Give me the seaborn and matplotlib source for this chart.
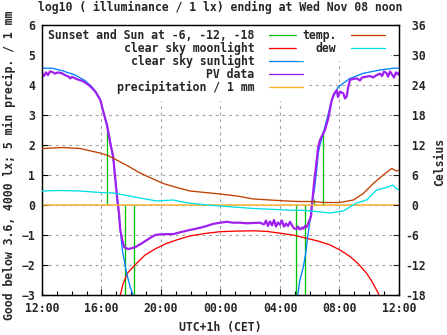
import matplotlib
matplotlib.use("Agg")
import matplotlib.pyplot as plt
import seaborn as sns
from matplotlib.lines import Line2D

# ---------------- data (hours since 12:00) ----------------
hour_ticks = [0, 4, 8, 12, 16, 20, 24]
hour_labels = ["12:00", "16:00", "20:00", "00:00", "04:00", "08:00", "12:00"]

# sunset / sun at -6, -12, -18 (evening) and -18, -12, -6, sunrise (morning)
event_h = [4.40, 5.04, 5.60, 6.21, 17.10, 17.71, 18.30, 18.91]
event_top = [2.5, 0.2, -3.0, -3.0, -3.0, -3.0, 0.2, 2.5]

moon_h = [5.24, 5.44, 5.73, 6.25, 6.92, 7.66, 8.38, 9.14, 9.95, 10.96, 11.97,
          13.11, 14.21, 15.13, 16.00, 16.87, 17.79, 18.55, 19.36, 20.03, 20.71,
          21.24, 21.83, 22.18, 22.61, 22.72]
moon_log = [-3.05, -2.65, -2.28, -2.00, -1.67, -1.45, -1.28, -1.15, -1.03, -0.95,
            -0.89, -0.87, -0.86, -0.88, -0.94, -1.00, -1.11, -1.20, -1.33, -1.50,
            -1.72, -1.95, -2.28, -2.55, -2.94, -3.10]

sun_eve_h = [0.00, 0.67, 1.34, 2.24, 2.91, 3.36, 3.70, 3.92, 4.15, 4.37, 4.57,
             4.79, 4.95, 5.09, 5.24, 5.40, 5.69, 5.92, 6.15]
sun_eve_log = [4.56, 4.56, 4.48, 4.33, 4.14, 3.94, 3.72, 3.50, 3.06, 2.61, 2.17,
               1.50, 0.83, 0.06, -0.72, -1.50, -2.28, -2.72, -3.05]
sun_mor_h = [17.18, 17.34, 17.57, 17.73, 17.86, 18.02, 18.13, 18.31, 18.47, 18.57,
             18.69, 19.02, 19.48, 19.92, 20.71, 21.60, 22.72, 23.62, 24.00]
sun_mor_log = [-3.05, -2.50, -2.06, -1.61, -1.06, -0.50, 0.00, 0.50, 1.17, 1.72,
               2.00, 2.61, 3.50, 3.94, 4.22, 4.39, 4.50, 4.56, 4.56]

pv_h = [0.00, 0.13, 0.27, 0.40, 0.54, 0.67, 0.87, 1.08, 1.34, 1.55, 1.79, 1.88,
        2.02, 2.24, 2.42, 2.69, 2.89, 3.14, 3.36, 3.58, 3.92, 4.15, 4.37, 4.55,
        4.64, 4.79, 4.91, 5.04, 5.18, 5.26, 5.40, 5.53, 5.80, 6.25, 6.70, 7.04,
        7.60, 7.93, 8.38, 8.83, 9.28, 9.95, 10.17, 10.62, 11.07, 11.50, 11.97,
        12.42, 12.86, 13.31, 13.76, 14.18, 14.66, 14.92, 15.06, 15.19, 15.33,
        15.46, 15.60, 15.73, 15.87, 16.00, 16.13, 16.27, 16.40, 16.54, 16.67,
        16.81, 16.94, 17.12, 17.21, 17.34, 17.48, 17.57, 17.68, 17.79, 17.90,
        18.08, 18.17, 18.31, 18.47, 18.57, 18.69, 19.02, 19.25, 19.48, 19.63,
        19.81, 19.90, 20.03, 20.26, 20.37, 20.48, 20.59, 20.71, 20.91, 21.16,
        21.38, 21.51, 21.83, 22.05, 22.25, 22.50, 22.72, 22.86, 22.99, 23.17,
        23.26, 23.40, 23.53, 23.66, 23.80, 23.93, 24.00]
pv_log = [4.39, 4.30, 4.42, 4.33, 4.45, 4.44, 4.38, 4.42, 4.39, 4.33, 4.28, 4.22,
          4.27, 4.22, 4.18, 4.14, 4.08, 4.00, 3.90, 3.78, 3.50, 3.06, 2.67, 2.17,
          1.95, 1.61, 0.94, 0.28, -0.28, -0.83, -1.17, -1.41, -1.47, -1.41, -1.28,
          -1.17, -1.00, -0.98, -0.97, -0.97, -0.91, -0.83, -0.81, -0.76, -0.70,
          -0.63, -0.59, -0.56, -0.59, -0.59, -0.61, -0.60, -0.59, -0.65, -0.52,
          -0.70, -0.55, -0.68, -0.50, -0.72, -0.58, -0.66, -0.52, -0.72, -0.62,
          -0.70, -0.56, -0.68, -0.78, -0.80, -0.72, -0.82, -0.75, -0.79, -0.70,
          -0.74, -0.61, -0.39, 0.11, 0.83, 1.50, 1.94, 2.17, 2.50, 2.89, 3.50,
          3.70, 3.83, 3.60, 3.78, 3.72, 3.55, 3.61, 3.94, 4.17, 4.20, 4.22, 4.15,
          4.25, 4.28, 4.30, 4.25, 4.33, 4.38, 4.30, 4.45, 4.39, 4.28, 4.45, 4.35,
          4.25, 4.42, 4.35, 4.42]

precip_h = [0.0, 24.0]
precip_mm = [0.0, 0.0]

temp_h = [0.00, 1.41, 2.55, 3.90, 4.44, 5.02, 5.78, 6.59, 7.39, 8.15, 8.94, 9.95,
          10.96, 11.97, 13.11, 14.21, 15.33, 16.45, 17.34, 18.24, 18.91, 20.03,
          20.93, 21.60, 22.27, 22.94, 23.51, 23.85, 24.00]
temp_c = [11.3, 11.5, 11.3, 10.4, 9.9, 9.0, 7.8, 6.4, 5.3, 4.3, 3.6, 2.8, 2.5,
          2.2, 1.8, 1.2, 1.0, 0.8, 0.7, 0.7, 0.5, 0.5, 1.0, 2.3, 4.3, 6.0, 7.3,
          6.8, 7.0]

dew_h = [0.00, 1.21, 2.55, 3.90, 4.77, 5.69, 6.59, 7.71, 8.82, 9.61, 10.40, 11.97,
         14.21, 16.45, 17.79, 19.36, 20.25, 21.15, 21.82, 22.50, 23.17, 23.58,
         23.80, 24.00]
dew_c = [2.8, 2.9, 2.8, 2.5, 2.4, 1.9, 1.4, 0.8, 1.0, 0.5, 0.2, -0.2, -0.7, -1.0,
         -1.1, -1.6, -1.2, 0.4, 1.0, 3.0, 3.5, 4.0, 3.3, 3.0]

# ---------------- style ----------------
C_GREEN = "#00c000"
C_RED = "#ff0000"
C_BLUE = "#0080ff"
C_PURPLE = "#a020f0"
C_ORANGE = "#ffb030"
C_TEMP = "#c04000"
C_DEW = "#00e0e8"

sns.set_theme(style="white")
plt.rcParams["font.family"] = ["DejaVu Sans Mono"]
plt.rcParams["font.weight"] = "bold"
plt.rcParams["font.size"] = 8.3

W, H = 447, 335
fig = plt.figure(figsize=(W / 100, H / 100), dpi=100)
L, R, T, B = 42, 399, 25, 295
ax = fig.add_axes([L / W, 1 - B / H, (R - L) / W, (B - T) / H])
ax.set_facecolor("white")
ax.set_axisbelow(True)

lw_thin = 0.95

ax.vlines(event_h, 0, event_top, colors=C_GREEN, linewidth=lw_thin, zorder=3)
sns.lineplot(x=moon_h, y=moon_log, ax=ax, color=C_RED, linewidth=lw_thin,
             estimator=None, sort=False, legend=False, zorder=3)
sns.lineplot(x=sun_eve_h, y=sun_eve_log, ax=ax, color=C_BLUE, linewidth=lw_thin,
             estimator=None, sort=False, legend=False, zorder=3)
sns.lineplot(x=sun_mor_h, y=sun_mor_log, ax=ax, color=C_BLUE, linewidth=lw_thin,
             estimator=None, sort=False, legend=False, zorder=3)
sns.lineplot(x=pv_h, y=pv_log, ax=ax, color=C_PURPLE, linewidth=1.6,
             estimator=None, sort=False, legend=False, zorder=4)
sns.lineplot(x=precip_h, y=precip_mm, ax=ax, color=C_ORANGE, linewidth=1.1,
             estimator=None, sort=False, legend=False, zorder=5)

ax.set_xlim(0, 24)
ax.set_ylim(-3, 6)
ax.set_xticks(hour_ticks)
ax.set_xticklabels(hour_labels)
ax.set_xticks(range(0, 25), minor=True)
ax.set_yticks(range(-3, 7))
ax.set_xlabel("")
ax.set_ylabel("")
ax.grid(True, which="major", color="#a0a0a0", linestyle=(0, (2.5, 3.5)),
        linewidth=0.8)
ax.tick_params(axis="both", which="both", direction="in", color="black",
               width=0.8, labelsize=8.3)
ax.tick_params(axis="x", which="major", length=4, pad=5, bottom=True, top=False)
ax.tick_params(axis="x", which="minor", length=3, bottom=True, top=False)
ax.tick_params(axis="y", which="major", length=4, pad=5, left=True, right=False)
for s in ax.spines.values():
    s.set_color("black")
    s.set_linewidth(0.9)

# ---------------- legends (opaque key under the curves, over the grid) -------
h1 = [Line2D([], [], color=C_GREEN, lw=lw_thin),
      Line2D([], [], color=C_RED, lw=lw_thin),
      Line2D([], [], color=C_BLUE, lw=lw_thin),
      Line2D([], [], color=C_PURPLE, lw=lw_thin),
      Line2D([], [], color=C_ORANGE, lw=lw_thin)]
l1 = ["Sunset and Sun at -6, -12, -18", "clear sky moonlight",
      "clear sky sunlight", "PV data", "precipitation / 1 mm"]
h2 = [Line2D([], [], color=C_TEMP, lw=lw_thin),
      Line2D([], [], color=C_DEW, lw=lw_thin)]
l2 = ["temp.", "dew"]

aw, ah = R - L, B - T
leg_kw = dict(markerfirst=False, frameon=True, fancybox=False, framealpha=1.0,
              edgecolor="white", facecolor="white", fontsize=8.3,
              handlelength=2.9, handletextpad=1.3, labelspacing=0.0,
              borderpad=0.45, borderaxespad=0.0)
leg1 = ax.legend(h1, l1, loc="upper left", bbox_to_anchor=(1 / aw, 1 + 1 / ah),
                 **leg_kw)
leg1.set_zorder(2)
ax.add_artist(leg1)
leg2 = ax.legend(h2, l2, loc="upper right",
                 bbox_to_anchor=((390 - L) / aw, 1 + 1 / ah), **leg_kw)
leg2.set_zorder(2)

ax2 = ax.twinx()
sns.lineplot(x=temp_h, y=temp_c, ax=ax2, color=C_TEMP, linewidth=lw_thin,
             estimator=None, sort=False, legend=False, zorder=3)
sns.lineplot(x=dew_h, y=dew_c, ax=ax2, color=C_DEW, linewidth=lw_thin,
             estimator=None, sort=False, legend=False, zorder=3)
ax2.set_ylim(-18, 36)
ax2.set_xlim(0, 24)
r_ticks = list(range(-18, 37, 6))
ax2.set_yticks(r_ticks)
ax2.set_yticklabels(["% d" % v for v in r_ticks], ha="left")
ax2.set_ylabel("")
ax2.tick_params(axis="y", direction="in", length=4, width=0.8, pad=4.5,
                labelsize=8.3, right=True, left=False)
ax2.grid(False)
for s in ax2.spines.values():
    s.set_color("black")
    s.set_linewidth(0.9)

# ---------------- texts ----------------
fig.text(0.5 * (L + R) / W + 0.0, 1 - 7 / H,
         "log10 ( illuminance / 1 lx) ending at Wed Nov 08 noon",
         ha="center", va="center", fontsize=8.3, fontweight="bold")
fig.text(220 / W, 1 - 327 / H, "UTC+1h (CET)", ha="center", va="center",
         fontsize=8.3, fontweight="bold")
fig.text(9 / W, 1 - 165 / H, "Good below 3.6, 4000 lx; 5 min precip. / 1 mm",
         ha="center", va="center", rotation=90, fontsize=8.3, fontweight="bold")
fig.text(440 / W, 1 - 162 / H, "Celsius", ha="center", va="center", rotation=90,
         fontsize=8.3, fontweight="bold")

fig.savefig("out.png", dpi=100, facecolor="white")
